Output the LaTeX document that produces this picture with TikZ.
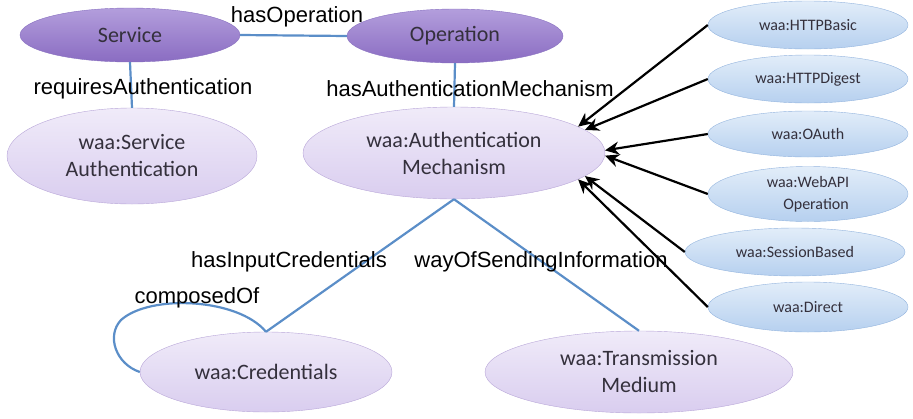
\documentclass[tikz,border=0pt]{standalone}
\usepackage{fontspec}
\setmainfont{Carlito}
\newfontfamily\labelfont{Liberation Sans}
\usetikzlibrary{shapes.geometric,arrows.meta}

\definecolor{purpledarktop}{HTML}{B39EDC}
\definecolor{purpledarkbot}{HTML}{8A6CC2}
\definecolor{purpledarkline}{HTML}{8870C0}
\definecolor{purplelighttop}{HTML}{F0EBF9}
\definecolor{purplelightbot}{HTML}{D9CDEF}
\definecolor{purplelightline}{HTML}{B8A6D8}
\definecolor{bluetop}{HTML}{E2EDF9}
\definecolor{bluebot}{HTML}{B6D0EF}
\definecolor{blueline}{HTML}{93B4DE}
\definecolor{linkblue}{HTML}{5B8EC8}
\definecolor{nodetext}{HTML}{34303C}

\tikzset{
  topclass/.style={ellipse, draw=purpledarkline, top color=purpledarktop, bottom color=purpledarkbot,
    inner sep=0pt, text=nodetext, font=\fontsize{22}{27}\selectfont, align=center},
  subclass/.style={ellipse, draw=purplelightline, top color=purplelighttop, bottom color=purplelightbot,
    inner sep=0pt, text=nodetext, font=\fontsize{22}{27}\selectfont, align=center},
  mechanism/.style={ellipse, draw=blueline, top color=bluetop, bottom color=bluebot,
    inner sep=0pt, text=nodetext, font=\fontsize{16}{22}\selectfont, align=center,
    minimum width=200pt, minimum height=48pt},
  relation/.style={draw=linkblue, line width=2.2pt},
  isa/.style={draw=black, line width=2.2pt, -{Stealth[length=14pt,width=13pt]}},
  proplabel/.style={font=\labelfont\fontsize{22}{24}\selectfont, text=black, inner sep=0pt}
}

\begin{document}
\begin{tikzpicture}[x=1pt,y=-1pt]
\useasboundingbox (0,0) rectangle (913,418);

% classes
\node[topclass, minimum width=220pt, minimum height=54pt] (Service) at (130,35) {Service};
\node[topclass, minimum width=216pt, minimum height=54pt] (Operation) at (455,36) {Operation};
\node[subclass, minimum width=250pt, minimum height=96pt] (ServiceAuth) at (132,156) {waa:Service\\Authentication};
\node[subclass, minimum width=302pt, minimum height=92pt] (AuthMech) at (454,153) {waa:Authentication\\Mechanism};
\node[subclass, minimum width=252pt, minimum height=80pt] (Credentials) at (266,372) {waa:Credentials};
\node[subclass, minimum width=308pt, minimum height=82pt] (Transmission) at (639,372) {waa:Transmission\\Medium};

% kinds of mechanism
\node[mechanism] (HTTPBasic) at (808,25) {waa:HTTPBasic};
\node[mechanism] (HTTPDigest) at (808,79) {waa:HTTPDigest};
\node[mechanism, minimum height=46pt] (OAuth) at (808,134) {waa:OAuth};
\node[mechanism, minimum height=55pt] (WebAPI) at (808,194) {waa:WebAPI\\\quad Operation};
\node[mechanism, minimum width=220pt] (SessionBased) at (795,252) {waa:SessionBased};
\node[mechanism, minimum height=50pt] (Direct) at (808,307) {waa:Direct};

% properties
\draw[relation] (Service.east) -- (Operation.west);
\draw[relation] (Service.south) -- (ServiceAuth.north);
\draw[relation] (Operation.south) -- (AuthMech.north);
\draw[relation] (AuthMech.south) -- (Credentials.north);
\draw[relation] (AuthMech.south) -- (Transmission.north);
\draw[relation] (Credentials.north) .. controls (238,298) and (150,294) .. (121,320)
  .. controls (106,336) and (116,364) .. (Credentials.west);

\node[proplabel] (hasOperation) at (297,17) {hasOperation};
\node[proplabel] (requiresAuth) at (143,89) {requiresAuthentication};
\node[proplabel] (hasAuthMech) at (470,89) {hasAuthenticationMechanism};
\node[proplabel] (hasInputCred) at (289,262) {hasInputCredentials};
\node[proplabel] (waySending) at (541,262) {wayOfSendingInformation};
\node[proplabel] (composedOf) at (197,298) {composedOf};

% subclass arrows
\draw[isa] (HTTPBasic.west) -- (AuthMech.12);
\draw[isa] (HTTPDigest.west) -- (AuthMech.10);
\draw[isa] (OAuth.west) -- (AuthMech.1);
\draw[isa] (WebAPI.west) -- (AuthMech.-1);
\draw[isa] (SessionBased.west) -- (AuthMech.-10);
\draw[isa] (Direct.west) -- (AuthMech.-12);
\end{tikzpicture}
\end{document}
